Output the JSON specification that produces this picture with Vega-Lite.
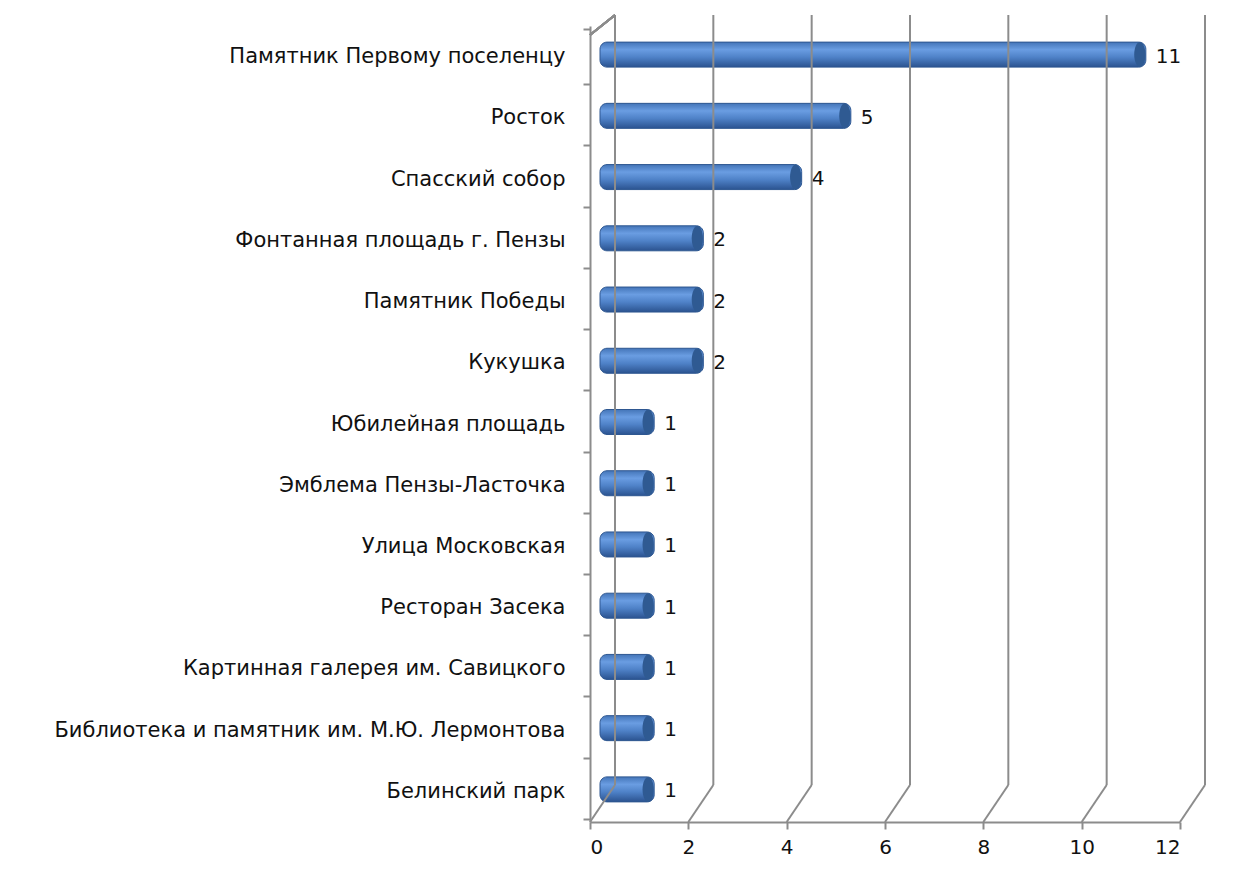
{
  "$schema": "https://vega.github.io/schema/vega-lite/v6.json",
  "width": 590,
  "height": 796,
  "autosize": "none",
  "padding": {"left": 590, "top": 26, "right": 71, "bottom": 66},
  "background": "white",
  "config": {"view": {"stroke": null}, "font": "DejaVu Sans"},
  "datasets": {
    "places": [
      {"place": "Памятник Первому поселенцу", "count": 11},
      {"place": "Росток", "count": 5},
      {"place": "Спасский собор", "count": 4},
      {"place": "Фонтанная площадь г. Пензы", "count": 2},
      {"place": "Памятник Победы", "count": 2},
      {"place": "Кукушка", "count": 2},
      {"place": "Юбилейная площадь", "count": 1},
      {"place": "Эмблема  Пензы-Ласточка", "count": 1},
      {"place": "Улица  Московская", "count": 1},
      {"place": "Ресторан Засека", "count": 1},
      {"place": "Картинная галерея им. Савицкого", "count": 1},
      {"place": "Библиотека и памятник им. М.Ю.  Лермонтова", "count": 1},
      {"place": "Белинский парк", "count": 1}
    ],
    "grid": [{"v": 0}, {"v": 2}, {"v": 4}, {"v": 6}, {"v": 8}, {"v": 10}, {"v": 12}]
  },
  "resolve": {"scale": {"y": "independent"}, "axis": {"y": "independent"}},
  "layer": [
    {
      "data": {"name": "places"},
      "layer": [
        {
          "mark": {"type": "bar", "size": 25, "xOffset": 15, "x2Offset": 10, "yOffset": -2, "cornerRadius": 7,
            "stroke": "#2e5791", "strokeWidth": 1,
            "color": {"gradient": "linear", "x1": 0, "y1": 0, "x2": 0, "y2": 1,
              "stops": [
                {"offset": 0, "color": "#4475b8"},
                {"offset": 0.3, "color": "#6a9de2"},
                {"offset": 0.6, "color": "#4f82c8"},
                {"offset": 1, "color": "#2b5390"}
              ]}},
          "encoding": {
            "y": {"field": "place", "type": "nominal", "sort": null,
              "axis": {"title": null, "domainColor": "#8c8c8c", "domainWidth": 2, "tickColor": "#8c8c8c", "tickWidth": 2, "tickSize": 7, "tickBand": "extent", "labelPadding": 18, "labelFontSize": 21, "labelColor": "#111", "labelFont": "DejaVu Sans", "labelLimit": 0}},
            "x": {"field": "count", "type": "quantitative", "scale": {"domain": [0, 12], "nice": false},
              "axis": {"values": [0, 2, 4, 6, 8, 10, 12], "title": null, "grid": false, "domainColor": "#8c8c8c", "domainWidth": 2, "tickColor": "#8c8c8c", "tickWidth": 2, "tickSize": 7, "labelPadding": 8, "labelFontSize": 20, "labelColor": "#111", "labelFont": "DejaVu Sans"}},
            "x2": {"datum": 0}
          }
        },
        {
          "mark": {"type": "point", "shape": "M0,-1 A0.45,1 0 1,1 0,1 A0.45,1 0 1,1 0,-1 Z", "size": 625, "filled": true, "color": "#2f5a92", "opacity": 1, "xOffset": 9, "yOffset": -2, "strokeWidth": 0},
          "encoding": {
            "y": {"field": "place", "type": "nominal", "sort": null},
            "x": {"field": "count", "type": "quantitative"}
          }
        },
        {
          "mark": {"type": "text", "align": "left", "baseline": "middle", "dx": 25, "fontSize": 20, "color": "#111", "font": "DejaVu Sans"},
          "encoding": {
            "y": {"field": "place", "type": "nominal", "sort": null},
            "x": {"field": "count", "type": "quantitative"},
            "text": {"field": "count", "type": "quantitative"}
          }
        }
      ]
    },
    {
      "data": {"name": "grid"},
      "layer": [
        {
          "mark": {"type": "rule", "color": "#8c8c8c", "strokeWidth": 2, "xOffset": 25, "yOffset": -11, "y2Offset": -37},
          "encoding": {
            "x": {"field": "v", "type": "quantitative"},
            "y": {"datum": 1, "type": "quantitative", "scale": {"domain": [0, 1]}, "axis": null},
            "y2": {"datum": 0}
          }
        },
        {
          "mark": {"type": "rule", "color": "#8c8c8c", "strokeWidth": 2, "x2Offset": 25, "y2Offset": -37},
          "encoding": {
            "x": {"field": "v", "type": "quantitative"},
            "x2": {"field": "v"},
            "y": {"datum": 0, "type": "quantitative", "scale": {"domain": [0, 1]}, "axis": null},
            "y2": {"datum": 0}
          }
        },
        {
          "mark": {"type": "rule", "color": "#8c8c8c", "strokeWidth": 2, "x2Offset": 25, "yOffset": 9, "y2Offset": -11},
          "encoding": {
            "x": {"datum": 0, "type": "quantitative"},
            "x2": {"datum": 0},
            "y": {"datum": 1, "type": "quantitative", "scale": {"domain": [0, 1]}, "axis": null},
            "y2": {"datum": 1}
          }
        }
      ]
    }
  ]
}
